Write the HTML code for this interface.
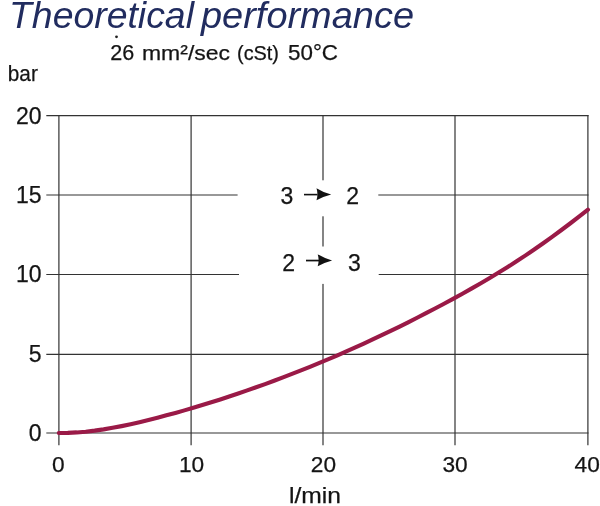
<!DOCTYPE html>
<html><head><meta charset="utf-8">
<style>
html,body{margin:0;padding:0;background:#fff;}
body{width:600px;height:506px;overflow:hidden;position:relative;}
svg{position:absolute;left:0;top:0;will-change:transform;}
text{font-family:"Liberation Sans",sans-serif;fill:#141414;stroke:#141414;stroke-width:0.25px;}
</style></head>
<body>
<svg width="600" height="506" viewBox="0 0 600 506">
<g stroke="#333" stroke-width="1.2" fill="none">
  <line x1="46.3" y1="115.7" x2="588.5" y2="115.7"/>
  <line x1="46.3" y1="195.0" x2="588.5" y2="195.0"/>
  <line x1="46.3" y1="274.5" x2="588.5" y2="274.5"/>
  <line x1="46.3" y1="354.3" x2="588.5" y2="354.3"/>
  <line x1="46.3" y1="433.0" x2="588.5" y2="433.0"/>
  <line x1="58.9" y1="115.1" x2="58.9" y2="445.3"/>
  <line x1="191.1" y1="115.1" x2="191.1" y2="445.3"/>
  <line x1="323.0" y1="115.1" x2="323.0" y2="445.3"/>
  <line x1="455.0" y1="115.1" x2="455.0" y2="445.3"/>
  <line x1="587.9" y1="115.1" x2="587.9" y2="445.3"/>
</g>
<rect x="237.6" y="180.3" width="140.7" height="36" fill="#fff"/>
<rect x="239" y="246.5" width="139.7" height="37.4" fill="#fff"/>
<path d="M58.8,433.00 L67.8,432.87 L76.7,432.42 L85.7,431.67 L94.7,430.64 L103.6,429.36 L112.6,427.84 L121.6,426.12 L130.6,424.21 L139.5,422.15 L148.5,419.97 L157.5,417.70 L166.4,415.35 L175.4,412.91 L184.4,410.39 L193.3,407.78 L202.3,405.08 L211.3,402.30 L220.3,399.44 L229.2,396.51 L238.2,393.51 L247.2,390.43 L256.1,387.28 L265.1,384.06 L274.1,380.76 L283.0,377.38 L292.0,373.93 L301.0,370.41 L309.9,366.81 L318.9,363.13 L327.9,359.37 L336.9,355.54 L345.8,351.63 L354.8,347.64 L363.8,343.58 L372.7,339.44 L381.7,335.22 L390.7,330.92 L399.6,326.54 L408.6,322.08 L417.6,317.54 L426.5,312.93 L435.5,308.23 L444.5,303.46 L453.5,298.61 L462.4,293.67 L471.4,288.64 L480.4,283.50 L489.3,278.24 L498.3,272.84 L507.3,267.29 L516.2,261.57 L525.2,255.66 L534.2,249.56 L543.2,243.29 L552.1,236.84 L561.1,230.25 L570.1,223.51 L579.0,216.63 L588.0,209.64" stroke="#9a1a47" stroke-width="4.1" fill="none" stroke-linecap="round" stroke-linejoin="round"/>

<text x="9" y="28" style="font-style:italic;fill:#212c5f;stroke:none" font-size="37.4">Theoretical</text>
<text x="201" y="28" style="font-style:italic;fill:#212c5f;stroke:none" font-size="37.4" textLength="213" lengthAdjust="spacingAndGlyphs">performance</text>
<circle cx="116.5" cy="36.8" r="1.4" fill="#222"/>
<text x="110.3" y="60" font-size="22.3" textLength="24" lengthAdjust="spacingAndGlyphs">26</text>
<text x="142" y="60" font-size="21" textLength="88" lengthAdjust="spacingAndGlyphs">mm²/sec</text>
<text x="237" y="60" font-size="21" textLength="42" lengthAdjust="spacingAndGlyphs">(cSt)</text>
<text x="288" y="60" font-size="22.3" textLength="50" lengthAdjust="spacingAndGlyphs">50°C</text>
<text x="7.8" y="80.5" font-size="22" textLength="30" lengthAdjust="spacingAndGlyphs">bar</text>

<g font-size="23" text-anchor="end">
  <text x="41.5" y="123.7">20</text>
  <text x="41.5" y="203">15</text>
  <text x="41.5" y="282.3">10</text>
  <text x="41.5" y="361.5">5</text>
  <text x="41.5" y="441">0</text>
</g>
<g font-size="22.7" text-anchor="middle">
  <text x="58.3" y="471.6">0</text>
  <text x="191.5" y="471.6">10</text>
  <text x="323.4" y="471.6">20</text>
  <text x="455.1" y="471.6">30</text>
  <text x="587.2" y="471.6">40</text>
</g>
<text x="289" y="503.3" font-size="22.5" textLength="52" lengthAdjust="spacingAndGlyphs">l/min</text>

<g font-size="23">
  <text x="280.5" y="204.2">3</text>
  <text x="346.3" y="204.2">2</text>
  <text x="282.3" y="270.8">2</text>
  <text x="348" y="270.8">3</text>
</g>
<g fill="#111" stroke="none">
  <rect x="304" y="193.8" width="13.5" height="1.6"/>
  <path d="M316.5,188.3 Q323.5,192.7 331.2,194.6 Q323.5,196.5 316.5,200.3 Q318.4,194.4 316.5,188.3Z"/>
  <rect x="306" y="259.7" width="13" height="1.7"/>
  <path d="M317.7,254.3 Q324.6,258.4 332.1,260.4 Q324.6,262.3 317.7,266.3 Q319.6,260.3 317.7,254.3Z"/>
</g>
</svg>
</body></html>
